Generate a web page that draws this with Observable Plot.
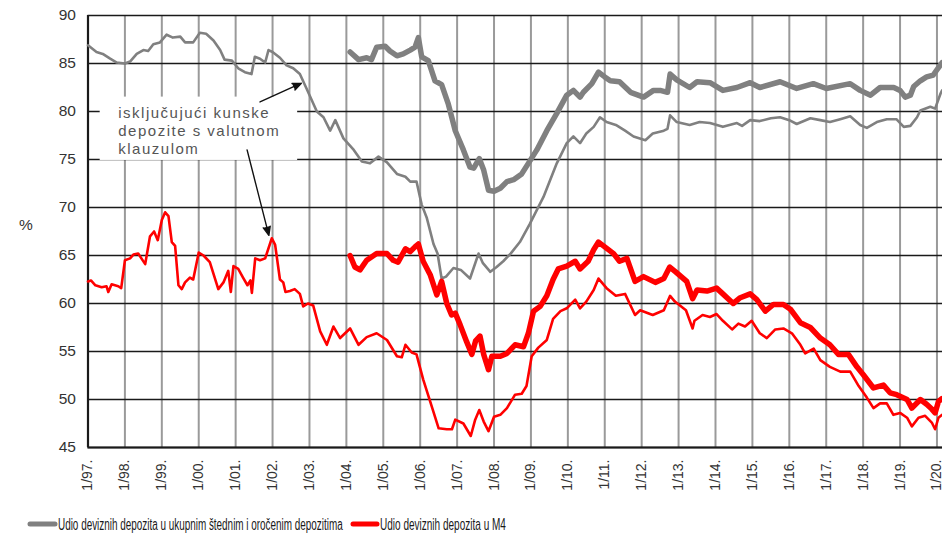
<!DOCTYPE html>
<html>
<head>
<meta charset="utf-8">
<script src="https://cdn.jsdelivr.net/npm/d3@7"></script>
<script src="https://cdn.jsdelivr.net/npm/@observablehq/plot@0.6"></script>
<style>
  html, body { margin: 0; padding: 0; background: #fff; }
  #wrap { position: relative; width: 942px; height: 538px; overflow: hidden; }
  #legend { display: block; }
</style>
</head>
<body>
<div id="wrap"><div id="chart"></div><svg id="legend" width="942" height="33"></svg></div>
<script>
// ---------- data ----------
const yearTicks = [1997,1998,1999,2000,2001,2002,2003,2004,2005,2006,2007,2008,2009,2010,2011,2012,2013,2014,2015,2016,2017,2018,2019,2020];
const yearTickLabels = ["1/97.","1/98.","1/99.","1/00.","1/01.","1/02.","1/03.","1/04.","1/05.","1/06.","1/07.","1/08.","1/09.","1/10.","1/11.","1/12.","1/13.","1/14.","1/15.","1/16.","1/17.","1/18.","1/19.","1/20."];
const yTicks = [45,50,55,60,65,70,75,80,85,90];

const seriesNames = ["Udio deviznih depozita u ukupnim štednim i oročenim depozitima", "Udio deviznih depozita u M4"];
const annotationLines = ["isključujući kunske", "depozite s valutnom", "klauzulom"];

// thin grey: share in savings & time deposits, excluding kuna deposits with FX clause
const grayThin = [
[1997.0,86.9],[1997.23,86.2],[1997.4,86.0],[1997.6,85.5],[1997.78,85.1],[1998.0,85.0],[1998.14,85.2],[1998.32,86.0],
[1998.5,86.4],[1998.63,86.3],[1998.77,87.0],[1998.95,87.2],[1999.13,88.0],[1999.3,87.7],[1999.5,87.8],[1999.63,87.2],
[1999.85,87.2],[2000.03,88.2],[2000.2,88.1],[2000.4,87.4],[2000.58,86.4],[2000.7,85.4],[2000.9,85.3],[2001.07,84.5],
[2001.25,84.1],[2001.43,83.9],[2001.52,85.7],[2001.66,85.5],[2001.8,85.1],[2001.89,86.4],[2002.0,86.2],[2002.2,85.6],
[2002.38,84.8],[2002.56,84.5],[2002.74,83.9],[2002.92,82.4],[2003.2,80.0],[2003.38,79.4],[2003.56,78.0],[2003.7,79.1],
[2003.92,77.2],[2004.2,76.0],[2004.42,74.8],[2004.64,74.6],[2004.87,75.3],[2005.1,74.7],[2005.37,73.5],[2005.6,73.2],
[2005.73,72.7],[2005.9,72.7],[2006.04,70.3],[2006.18,68.9],[2006.36,66.2],[2006.47,65.2],[2006.58,62.6],[2006.7,62.8],
[2006.9,63.7],[2007.1,63.5],[2007.35,62.6],[2007.58,65.2],[2007.7,64.2],[2007.9,63.3],[2008.07,63.8],[2008.25,64.4],
[2008.45,65.2],[2008.7,66.4],[2008.97,68.3],[2009.34,71.1],[2009.7,74.6],[2009.97,76.7],[2010.15,77.4],[2010.33,76.7],
[2010.5,77.7],[2010.7,78.4],[2010.87,79.4],[2011.05,78.9],[2011.3,78.6],[2011.55,78.0],[2011.78,77.4],[2012.1,77.0],
[2012.3,77.7],[2012.6,78.0],[2012.7,78.2],[2012.77,79.6],[2012.95,78.9],[2013.3,78.6],[2013.57,78.9],[2013.85,78.8],
[2014.2,78.4],[2014.58,78.8],[2014.72,78.5],[2014.94,79.1],[2015.2,79.0],[2015.5,79.3],[2015.75,79.4],[2016.0,79.1],
[2016.2,78.7],[2016.57,79.3],[2016.84,79.1],[2017.1,78.9],[2017.38,79.2],[2017.65,79.5],[2017.92,78.6],[2018.1,78.3],
[2018.37,78.9],[2018.64,79.2],[2018.9,79.2],[2019.1,78.4],[2019.28,78.5],[2019.46,79.4],[2019.55,80.1],[2019.82,80.5],
[2019.95,80.3],[2020.1,81.9],[2020.14,82.2]
];

// thick grey: share in savings & time deposits (including kuna deposits with FX clause)
const grayThick = [
[2004.1,86.2],[2004.33,85.4],[2004.55,85.6],[2004.68,85.4],[2004.82,86.7],[2005.05,86.8],[2005.18,86.3],[2005.37,85.8],
[2005.54,86.0],[2005.73,86.4],[2005.86,86.7],[2005.95,87.7],[2006.04,85.7],[2006.22,85.3],[2006.4,83.2],[2006.58,82.8],
[2006.76,80.8],[2006.95,78.0],[2007.17,76.0],[2007.35,74.2],[2007.45,74.1],[2007.6,75.1],[2007.72,73.9],[2007.85,71.8],
[2008.0,71.7],[2008.17,72.0],[2008.35,72.7],[2008.53,72.9],[2008.75,73.5],[2008.93,74.6],[2009.16,76.0],[2009.43,78.0],
[2009.7,79.8],[2009.97,81.7],[2010.15,82.2],[2010.33,81.5],[2010.42,82.0],[2010.65,82.9],[2010.83,84.1],[2011.0,83.6],
[2011.15,83.2],[2011.4,83.1],[2011.7,82.0],[2012.05,81.5],[2012.32,82.2],[2012.5,82.2],[2012.7,82.0],[2012.77,83.9],
[2012.95,83.3],[2013.3,82.5],[2013.5,83.1],[2013.85,83.0],[2014.2,82.2],[2014.58,82.5],[2014.94,83.0],[2015.2,82.5],
[2015.75,83.1],[2016.2,82.4],[2016.65,82.9],[2017.0,82.4],[2017.65,82.9],[2017.92,82.2],[2018.2,81.7],[2018.46,82.5],
[2018.83,82.5],[2019.0,82.2],[2019.14,81.5],[2019.28,81.7],[2019.37,82.6],[2019.55,83.2],[2019.72,83.6],[2019.9,83.8],
[2019.99,84.3],[2020.14,85.1]
];

// thin red: share in M4, excluding kuna deposits with FX clause
const redThin = [
[1997.0,62.3],[1997.08,62.4],[1997.2,61.9],[1997.37,61.7],[1997.5,61.8],[1997.55,61.2],[1997.64,62.0],[1997.82,61.8],
[1997.9,61.6],[1998.0,64.5],[1998.14,64.7],[1998.23,65.1],[1998.36,65.2],[1998.55,64.1],[1998.68,67.0],[1998.79,67.5],
[1998.89,66.6],[1999.0,68.7],[1999.09,69.5],[1999.18,69.1],[1999.27,66.4],[1999.36,66.0],[1999.45,61.9],[1999.54,61.5],
[1999.63,62.2],[1999.76,62.7],[1999.85,62.5],[2000.0,65.3],[2000.13,65.0],[2000.3,64.3],[2000.53,61.5],[2000.67,62.2],
[2000.8,63.4],[2000.87,61.2],[2000.94,63.9],[2001.07,63.6],[2001.2,62.7],[2001.32,61.9],[2001.4,62.4],[2001.44,61.1],
[2001.53,64.7],[2001.66,64.5],[2001.8,64.7],[2001.98,66.8],[2002.07,66.1],[2002.2,62.5],[2002.29,62.2],[2002.35,61.2],
[2002.47,61.3],[2002.6,61.5],[2002.74,61.0],[2002.83,59.7],[2002.96,60.0],[2003.1,59.8],[2003.29,57.1],[2003.47,55.7],
[2003.65,57.6],[2003.83,56.4],[2004.1,57.4],[2004.33,55.7],[2004.55,56.5],[2004.82,56.9],[2005.1,56.2],[2005.37,54.5],
[2005.5,54.4],[2005.6,55.7],[2005.77,54.9],[2005.9,54.7],[2006.08,52.1],[2006.31,49.3],[2006.5,47.0],[2006.72,46.9],
[2006.86,46.9],[2006.95,47.9],[2007.17,47.5],[2007.37,46.2],[2007.49,47.9],[2007.6,48.9],[2007.72,47.7],[2007.85,46.7],
[2008.0,48.2],[2008.17,48.4],[2008.35,49.1],[2008.57,50.5],[2008.75,50.6],[2008.88,51.4],[2009.02,54.5],[2009.2,55.4],
[2009.43,56.2],[2009.6,58.4],[2009.8,59.2],[2009.97,59.5],[2010.2,60.4],[2010.33,59.5],[2010.5,60.2],[2010.7,61.4],
[2010.83,62.6],[2011.05,61.6],[2011.3,60.8],[2011.55,61.0],[2011.82,58.8],[2011.96,59.3],[2012.3,58.8],[2012.6,59.3],
[2012.77,60.8],[2012.9,60.2],[2013.2,59.3],[2013.38,57.4],[2013.43,58.2],[2013.65,58.8],[2013.85,58.6],[2014.03,58.9],
[2014.2,58.2],[2014.45,57.3],[2014.62,57.9],[2014.8,57.6],[2014.98,58.2],[2015.2,56.9],[2015.39,56.4],[2015.62,57.3],
[2015.84,57.4],[2016.07,56.9],[2016.3,55.7],[2016.43,54.8],[2016.66,55.3],[2016.84,54.1],[2017.1,53.4],[2017.38,52.9],
[2017.65,52.9],[2017.88,51.4],[2018.1,50.2],[2018.28,49.1],[2018.46,49.6],[2018.64,49.6],[2018.82,48.4],[2019.0,48.6],
[2019.19,48.1],[2019.32,47.2],[2019.5,48.1],[2019.68,48.3],[2019.86,47.6],[2019.95,46.9],[2020.04,48.1],[2020.14,48.4]
];

// thick red: share in M4 (including kuna deposits with FX clause)
const redThick = [
[2004.1,65.0],[2004.23,63.8],[2004.37,63.5],[2004.55,64.5],[2004.82,65.2],[2005.1,65.2],[2005.27,64.5],[2005.4,64.3],
[2005.6,65.7],[2005.73,65.4],[2005.86,65.9],[2005.95,66.2],[2006.08,64.4],[2006.27,63.0],[2006.45,60.9],[2006.58,62.3],
[2006.72,60.0],[2006.85,58.8],[2006.95,59.0],[2007.08,57.8],[2007.26,56.0],[2007.4,54.7],[2007.5,56.1],[2007.62,56.6],
[2007.72,54.7],[2007.85,53.1],[2007.94,54.5],[2008.17,54.5],[2008.35,54.8],[2008.57,55.7],[2008.8,55.5],[2008.93,56.9],
[2009.07,59.2],[2009.25,59.7],[2009.43,60.8],[2009.6,62.5],[2009.74,63.6],[2009.97,63.9],[2010.2,64.4],[2010.33,63.6],
[2010.55,64.4],[2010.7,65.6],[2010.83,66.4],[2011.0,65.9],[2011.24,65.2],[2011.4,64.4],[2011.6,64.7],[2011.82,62.3],
[2012.05,62.8],[2012.37,62.2],[2012.6,62.6],[2012.76,63.8],[2012.92,63.3],[2013.22,62.3],[2013.38,60.5],[2013.5,61.4],
[2013.77,61.3],[2014.03,61.6],[2014.2,61.0],[2014.48,60.0],[2014.67,60.6],[2014.94,61.0],[2015.12,60.4],[2015.35,59.2],
[2015.57,59.9],[2015.84,59.9],[2016.03,59.4],[2016.3,58.0],[2016.57,57.5],[2016.84,56.4],[2017.1,55.7],[2017.33,54.7],
[2017.6,54.7],[2017.83,53.4],[2018.0,52.6],[2018.28,51.2],[2018.55,51.5],[2018.73,50.7],[2018.91,50.5],[2019.19,50.0],
[2019.32,49.1],[2019.55,50.0],[2019.72,49.5],[2019.86,49.0],[2019.95,48.6],[2020.04,49.8],[2020.14,50.1]
];

// annotation (data coordinates)
const annotationBox = [{x1: 1997.33, x2: 2002.68, y1: 74.9, y2: 81.5}];
const annotationTextPos = [{x: 1997.82, y: 79.8}, {x: 1997.82, y: 77.95}, {x: 1997.82, y: 76.1}];
const arrows = [
  {x1: 2001.66, y1: 81.0, x2: 2002.78, y2: 82.95},
  {x1: 2001.31, y1: 76.0, x2: 2001.9, y2: 67.1}
];

// ---------- chart ----------
const GRAY = "#808080", RED = "#ff0000";
const X = d => d[0], Y = d => d[1];
const chart = Plot.plot({
  width: 942, height: 505,
  marginLeft: 87.5, marginRight: 0, marginTop: 15, marginBottom: 58,
  x: {domain: [1997, 2020.15]},
  y: {domain: [45, 90]},
  style: {fontFamily: "'Liberation Sans', Arial, sans-serif", background: "#fff", overflow: "visible"},
  marks: [
    Plot.gridX(yearTicks, {stroke: "#9a9a9a", strokeOpacity: 1, strokeWidth: 2}),
    Plot.gridY(yTicks, {stroke: "#1a1a1a", strokeOpacity: 1, strokeWidth: 1.4}),
    Plot.rect(annotationBox, {x1: "x1", x2: "x2", y1: "y1", y2: "y2", fill: "#fff"}),
    Plot.ruleX([1997], {stroke: "#1a1a1a", strokeWidth: 2.2}),
    Plot.ruleY([45], {stroke: "#1a1a1a", strokeWidth: 2.2}),
    Plot.axisY(yTicks, {tickSize: 0, tickPadding: 12, fontSize: 15.5, fill: "#333", label: null}),
    Plot.axisX(yearTicks, {tickSize: 0, tickPadding: 12, tickRotate: -90, fontSize: 14, fill: "#333",
      tickFormat: d => yearTickLabels[yearTicks.indexOf(d)], label: null}),
    Plot.text(["%"], {frameAnchor: "left", dx: -69, dy: -6, fontSize: 15.5, fill: "#333"}),
    Plot.line(grayThin, {x: X, y: Y, stroke: GRAY, strokeWidth: 2.6, strokeLinejoin: "round"}),
    Plot.line(grayThick, {x: X, y: Y, stroke: GRAY, strokeWidth: 5.5, strokeLinejoin: "round"}),
    Plot.line(redThin, {x: X, y: Y, stroke: RED, strokeWidth: 2.6, strokeLinejoin: "round"}),
    Plot.line(redThick, {x: X, y: Y, stroke: RED, strokeWidth: 5.5, strokeLinejoin: "round"}),
    Plot.text(annotationLines, {x: (d, i) => annotationTextPos[i].x, y: (d, i) => annotationTextPos[i].y,
      text: d => d, textAnchor: "start", fontSize: 15, fill: "#555"}),
    Plot.arrow(arrows, {x1: "x1", y1: "y1", x2: "x2", y2: "y2", stroke: "#111", fill: "#111",
      strokeWidth: 1.4, headLength: 10, headAngle: 45})
  ]
});
document.getElementById("chart").appendChild(chart);
chart.querySelectorAll('g[aria-label="text"] text').forEach(t => {
  if (annotationLines.includes(t.textContent)) t.setAttribute("letter-spacing", "1.5");
});

// legend (SVG, horizontally condensed text like the reference)
const legendLayout = [
  {sx1: 30, sx2: 55, tx: 58, tw: 285},
  {sx1: 353, sx2: 377, tx: 380, tw: 126}
];
const lg = d3.select("#legend");
[GRAY, RED].forEach((c, i) => {
  const L = legendLayout[i];
  lg.append("line").attr("x1", L.sx1).attr("x2", L.sx2).attr("y1", 19).attr("y2", 19)
    .attr("stroke", c).attr("stroke-width", 5).attr("stroke-linecap", "round");
  const t = lg.append("text")
    .attr("font-family", "'Liberation Sans', Arial, sans-serif").attr("font-size", 16)
    .attr("fill", "#1a1a1a").text(seriesNames[i]);
  const w = t.node().getComputedTextLength();
  t.attr("transform", `translate(${L.tx},24.8) scale(${L.tw / w},1)`);
});
</script>
</body>
</html>
